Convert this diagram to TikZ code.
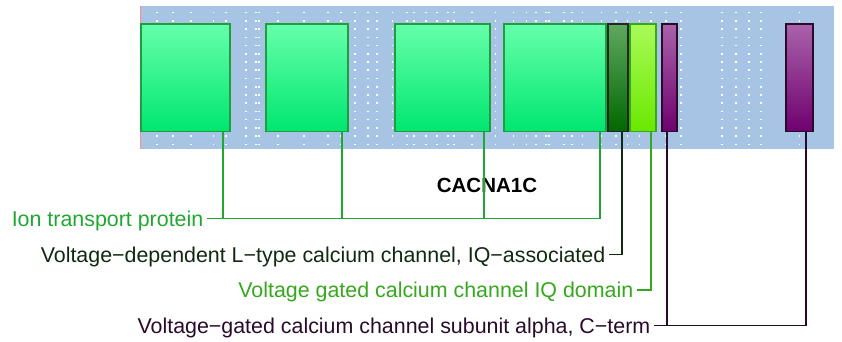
\documentclass[tikz,border=0pt]{standalone}
\usepackage{fontspec}
\setmainfont{Liberation Sans}
\usepackage{xcolor}
\usetikzlibrary{positioning}
\definecolor{panelbg}{HTML}{A8C4E4}
\definecolor{iongreen}{HTML}{1FA82F}
\definecolor{iqadark}{HTML}{0F2A0F}
\definecolor{iqdgreen}{HTML}{35A81C}
\definecolor{ctermpurple}{HTML}{2A0A2A}

\begin{document}
\begin{tikzpicture}[x=1pt, y=-1pt, every node/.style={font=\fontsize{21.4}{25}\selectfont},
  dombox/.style={anchor=north west, minimum height=107.4pt, inner sep=0pt, line width=1.6pt},
  ionbox/.style={dombox, draw={rgb,255:red,30;green,158;blue,60}, top color={rgb,255:red,102;green,255;blue,170}, bottom color={rgb,255:red,0;green,230;blue,112}},
  iqabox/.style={dombox, draw=black!85, top color={rgb,255:red,95;green,168;blue,95}, bottom color={rgb,255:red,0;green,104;blue,0}},
  iqdbox/.style={dombox, draw=iqdgreen, top color={rgb,255:red,170;green,250;blue,88}, bottom color={rgb,255:red,106;green,232;blue,0}},
  ctbox/.style={dombox, draw=ctermpurple, top color={rgb,255:red,170;green,98;blue,170}, bottom color={rgb,255:red,110;green,0;blue,110}},
  lbl/.style={anchor=east, inner xsep=3.5pt, inner ysep=0pt, text height=15pt, text depth=0pt},
  conn/.style={line width=1.8pt}]
\useasboundingbox (0,0) rectangle (842,342);
% panel with dotted grid
\fill[panelbg] (140,6) rectangle (834,148.5);
\draw[red!45!white, line width=1pt] (140.5,6) -- (140.5,148.5);
\foreach \x in {156.7,172.7,191,213.3,226,245.7,256,258.7,277.7,303.7,327.7,341,355,368,376.7,392.3,406.7,413.7,426,
    436.7,448,454,472,495.3,513.3,526.3,536,545.7,549,563.7,571.7,582.3,601.3,616,627.3,639.3,650.7,665.7,681,722,736,749,761,799.3}
  \foreach \k in {0,...,16}
    \fill[white] (\x-0.8,12.7+\k*8.225-0.8) rectangle ++(1.6,1.6);
% domains
\node[ionbox, minimum width=89pt] (box1) at (140,23.3) {};
\node[ionbox, minimum width=82pt] (box2) at (265,23.3) {};
\node[ionbox, minimum width=95pt] (box3) at (394,23.3) {};
\node[ionbox, minimum width=102pt] (box4) at (503,23.3) {};
\node[iqabox, minimum width=20pt] (box5) at (607,23.3) {};
\node[iqdbox, minimum width=26pt] (box6) at (629,23.3) {};
\node[ctbox, minimum width=15pt] (box7) at (661,23.3) {};
\node[ctbox, minimum width=27pt] (box8) at (785,23.3) {};
% gene name
\node[font=\fontsize{20.5}{24}\selectfont\bfseries, inner sep=0pt, text height=15pt, text depth=0pt] (gene) at (487,184.5) {CACNA1C};
% labels
\node[lbl, text=iongreen] (ion) at (207,218.5) {Ion transport protein};
\node[lbl, text=iqadark] (iqa) at (609,254.5) {Voltage−dependent L−type calcium channel, IQ−associated};
\node[lbl, text=iqdgreen] (iqd) at (637,290) {Voltage gated calcium channel IQ domain};
\node[lbl, text=ctermpurple] (cterm) at (654,325.5) {Voltage−gated calcium channel subunit alpha, C−term};
% connectors
\draw[conn, iongreen] (ion.east) -| ([xshift=-7pt]box4.south east);
\foreach \b/\s in {box1/-8,box2/-7,box3/-7}
  \draw[conn, iongreen] ([xshift=\s pt]\b.south east) -- ([xshift=\s pt]\b.south east |- ion.east);
\draw[conn, iqadark] (iqa.east) -| ([xshift=-7pt]box5.south east);
\draw[conn, iqdgreen] (iqd.east) -| ([xshift=-6pt]box6.south east);
\draw[conn, ctermpurple] (cterm.east) -| ([xshift=-8pt]box8.south east);
\draw[conn, ctermpurple] ([xshift=6pt]box7.south west) -- ([xshift=6pt]box7.south west |- cterm.east);
\end{tikzpicture}
\end{document}
